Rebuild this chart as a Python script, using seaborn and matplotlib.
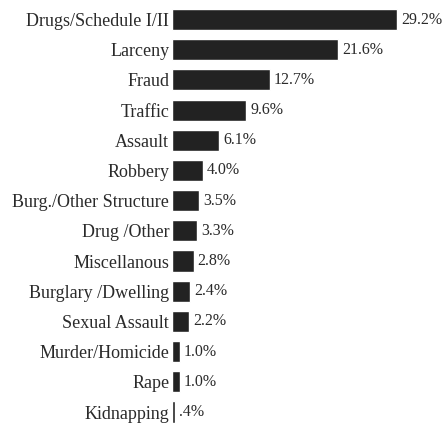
import matplotlib
matplotlib.use("Agg")
import matplotlib.pyplot as plt
import seaborn as sns
import pandas as pd

categories = [
    "Drugs/Schedule I/II", "Larceny", "Fraud", "Traffic", "Assault",
    "Robbery", "Burg./Other Structure", "Drug /Other", "Miscellanous",
    "Burglary /Dwelling", "Sexual Assault", "Murder/Homicide", "Rape",
    "Kidnapping",
]
shares = [29.2, 21.6, 12.7, 9.6, 6.1, 4.0, 3.5, 3.3, 2.8, 2.4, 2.2, 1.0, 1.0, 0.4]
share_labels = ["29.2%", "21.6%", "12.7%", "9.6%", "6.1%", "4.0%", "3.5%",
                "3.3%", "2.8%", "2.4%", "2.2%", "1.0%", "1.0%", ".4%"]

df = pd.DataFrame({"offense": categories, "share": shares})

sns.set_theme(style="white")
plt.rcParams["font.family"] = ["Liberation Serif", "DejaVu Serif"]

fig = plt.figure(figsize=(4.48, 4.23), dpi=100)
ax = fig.add_axes([172 / 448, 0, 276 / 448, 1])

sns.barplot(data=df, x="share", y="offense", orient="h", color="#222222",
            saturation=1, width=0.7, ax=ax)

ax.set_xlim(0, 35.85)
ax.set_ylim(13.364, -0.646)
ax.bar_label(ax.containers[0], labels=share_labels, padding=3,
             fontsize=11.5, color="#2a2a2a")

ax.set_xlabel("")
ax.set_ylabel("")
ax.set_xticks([])
ax.tick_params(axis="y", length=0, pad=2, labelsize=13, labelcolor="#2a2a2a")
sns.despine(ax=ax, left=True, bottom=True)

fig.savefig("out.png", dpi=100)
